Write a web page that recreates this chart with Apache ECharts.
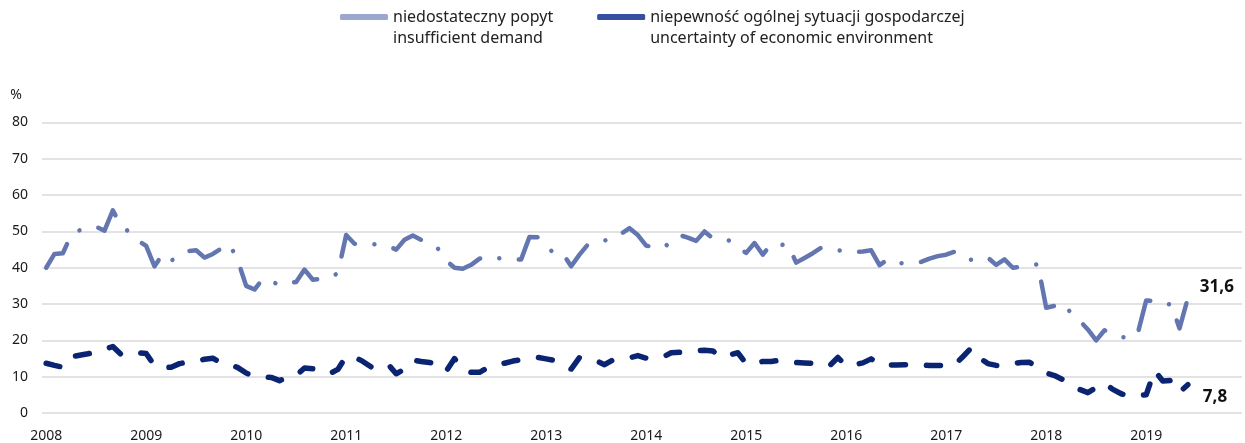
<!DOCTYPE html>
<html>
<head>
<meta charset="utf-8">
<script src="https://cdn.jsdelivr.net/npm/echarts@6/dist/echarts.min.js"></script>
<style>
html, body { margin: 0; padding: 0; background: #fff; }
#chart { width: 1245px; height: 443px; }
</style>
</head>
<body>
<div id="chart"></div>
<script>
// months Jan 2008 - Dec 2019, data up to Jun 2019
var years = [2008, 2009, 2010, 2011, 2012, 2013, 2014, 2015, 2016, 2017, 2018, 2019];
var months = [];
years.forEach(function (y) {
    for (var m = 1; m <= 12; m++) months.push(y + '-' + (m < 10 ? '0' + m : m));
});

var demand = [
    40, 43.8, 44, 49, 50.3, 51, 51.3, 50.2, 55.8, 51.5, 49.8, 47.5,
    46, 40.4, 43.8, 42, 43, 44.6, 44.8, 42.8, 43.8, 45.3, 46.5, 42,
    35, 34, 37, 36.3, 35.2, 35.8, 36.1, 39.5, 36.7, 37, 37.2, 38.5,
    49, 46.6, 46.5, 46.5, 46.4, 46, 45, 47.7, 48.9, 47.7, 46.3, 45.3,
    42, 40, 39.7, 40.8, 42.5, 43.1, 42.7, 42.5, 42.3, 42.3, 48.5, 48.4,
    46, 43.8, 43.9, 40.4, 43.6, 46.4, 47, 47.4, 49, 49.4, 50.9, 49,
    46.1, 45.6, 45.4, 47.2, 49, 48.3, 47.4, 50, 48.1, 47.8, 47.5, 45.6,
    44.1, 46.8, 43.6, 46.5, 46.2, 46.5, 41.4, 42.7, 44, 45.5, 45.3, 44.8,
    44.5, 44.3, 44.5, 44.8, 40.7, 42.3, 41.2, 41.3, 41.6, 41.6, 42.5, 43.2,
    43.6, 44.4, 42.6, 42.2, 42.3, 42.8, 40.8, 42.3, 40, 40.3, 40.5, 41,
    29, 29.5, 30.3, 27.5, 25.5, 23, 20, 22.8, 21.8, 21, 20.5, 22,
    31, 30.8, 29.8, 30, 23.3, 31.6
];

var uncertainty = [
    13.7, 13.1, 12.6, 15.5, 15.9, 16.3, 16.8, 17.6, 18.3, 16.1, 16, 16.6,
    16.4, 13, 12.5, 12.6, 13.6, 14, 14.2, 14.8, 15.1, 13.8, 13.5, 12.5,
    11, 10, 10, 9.8, 8.9, 9.9, 10.3, 12.4, 12.2, 11.2, 10.8, 12,
    15.6, 15.4, 14.2, 12.7, 13.1, 13.5, 10.8, 12.1, 14.6, 14.2, 13.9, 13.5,
    11.5, 15, 11.9, 11.2, 11.2, 12.5, 13.3, 13.7, 14.3, 14.7, 14.9, 15.3,
    14.9, 14.5, 13, 12.1, 15.3, 15, 14.4, 13.3, 14.6, 14.9, 15.2, 15.8,
    15.1, 15, 15.4, 16.6, 16.7, 16.8, 17.1, 17.3, 17.1, 15.3, 16, 16.6,
    13.6, 13.7, 14.2, 14.2, 14.5, 14.2, 13.9, 13.8, 13.7, 13.5, 13, 15.3,
    13, 13.3, 13.8, 14.9, 13.3, 13.2, 13.2, 13.3, 13.3, 13.2, 13.1, 13.1,
    13.1, 13.2, 15.5, 17.9, 15.2, 13.6, 13.1, 13.1, 13.6, 13.9, 14, 12.3,
    11, 10.3, 9.2, 7.9, 6.5, 5.6, 7, 8.2, 6.5, 5.3, 4.6, 4.8,
    5, 11.7, 8.8, 9, 5.7, 7.8
];

var names = [
    'niedostateczny popyt\ninsufficient demand',
    'niepewność ogólnej sytuacji gospodarczej\nuncertainty of economic environment'
];

function endLabel(offset) {
    return {
        show: true,
        distance: 12,
        offset: offset,
        fontFamily: 'Noto Sans',
        fontSize: 17,
        fontWeight: 'bold',
        color: '#111',
        formatter: function (p) { return String(p.value).replace('.', ','); }
    };
}

var chart = echarts.init(document.getElementById('chart'));
var option = {
    animation: false,
    textStyle: { fontFamily: 'Noto Sans' },
    legend: {
        left: 340,
        top: -14.5,
        padding: 0,
        itemGap: 44,
        itemWidth: 48,
        itemHeight: 6,
        icon: 'roundRect',
        data: [
            { name: names[0], itemStyle: { color: '#9ba7cf' } },
            { name: names[1], itemStyle: { color: '#34509e' } }
        ],
        // empty first line so the icon sits next to the first text line
        formatter: function (name) { return '\n' + name; },
        textStyle: {
            fontFamily: 'Noto Sans',
            fontSize: 16,
            color: '#222',
            lineHeight: 21
        }
    },
    grid: {
        left: 42,
        right: 3,
        top: 122.5,
        bottom: 28.7,
        containLabel: false
    },
    xAxis: {
        type: 'category',
        boundaryGap: true,
        data: months,
        axisLine: { show: false },
        axisTick: { show: false },
        axisLabel: {
            interval: function (idx) { return idx % 12 === 0; },
            formatter: function (v) { return v.slice(0, 4); },
            fontSize: 14,
            color: '#1a1a1a',
            margin: 16
        }
    },
    yAxis: {
        type: 'value',
        min: 0,
        max: 80,
        interval: 10,
        name: '%',
        nameLocation: 'end',
        nameGap: 20,
        nameTextStyle: { fontSize: 14, color: '#1a1a1a', align: 'right', padding: [0, 20, 0, 0] },
        axisLine: { show: false },
        axisTick: { show: false },
        axisLabel: { fontSize: 14, color: '#1a1a1a', margin: 14 },
        splitLine: { lineStyle: { color: '#e3e3e3', width: 2 } }
    },
    series: [
        {
            name: names[0],
            type: 'line',
            data: demand,
            symbol: 'none',
            color: '#6476b0',
            lineStyle: {
                color: '#6476b0',
                width: 4.5,
                type: [34.5, 19.5, 0.01, 19.5],
                cap: 'round',
                join: 'round'
            },
            endLabel: endLabel([0, -11]),
            z: 3
        },
        {
            name: names[1],
            type: 'line',
            data: uncertainty,
            symbol: 'none',
            color: '#0b2472',
            lineStyle: {
                color: '#0b2472',
                width: 5.5,
                type: [14, 21],
                cap: 'round',
                join: 'round'
            },
            endLabel: endLabel([3, 12]),
            z: 4
        }
    ]
};
chart.setOption(option);
</script>
</body>
</html>
